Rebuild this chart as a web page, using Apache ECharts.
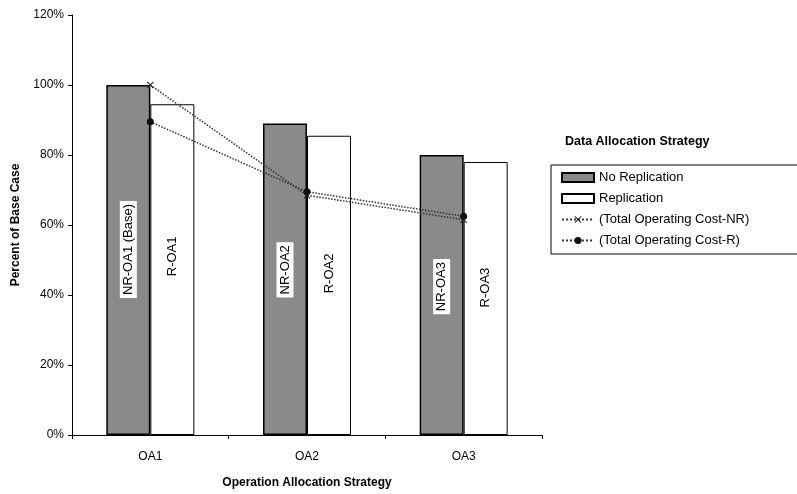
<!DOCTYPE html>
<html>
<head>
<meta charset="utf-8">
<script src="https://cdn.jsdelivr.net/npm/echarts@6/dist/echarts.min.js"></script>
<style>
html,body{margin:0;padding:0;background:#fff;}
#chart{width:797px;height:494px;}
</style>
</head>
<body>
<div id="chart"></div>
<script>
var categories = ['OA1', 'OA2', 'OA3'];
var seriesNames = ['No Replication', 'Replication', '(Total Operating Cost-NR)', '(Total Operating Cost-R)'];
var noReplication = [100, 89, 80];
var replication = [94.5, 85.5, 78];
var costNR = [100, 68.5, 61.5];
var costR = [89.5, 69.5, 62.5];
var nrLabels = ['NR-OA1 (Base)', 'NR-OA2', 'NR-OA3'];
var rLabels = ['R-OA1', 'R-OA2', 'R-OA3'];
var yTicks = { min: 0, max: 120, interval: 20 };

var FONT = '"Liberation Sans", Arial, sans-serif';
var chart = echarts.init(document.getElementById('chart'), null, { renderer: 'canvas' });

var starPath = 'path://M0,1 L1,0 L5,4 L9,0 L10,1 L6,5 L10,9 L9,10 L5,6 L1,10 L0,9 L4,5 Z';

var option = {
  backgroundColor: '#fff',
  textStyle: { fontFamily: FONT, color: '#000' },
  animation: false,
  title: {
    text: 'Data Allocation Strategy',
    left: 560,
    top: 130,
    textStyle: { fontFamily: FONT, fontSize: 12.5, fontWeight: 'bold', color: '#000' }
  },
  legend: {
    orient: 'vertical',
    left: 551,
    top: 165,
    padding: [6, 60, 7, 10],
    itemGap: 8,
    itemWidth: 32,
    itemHeight: 9,
    borderColor: '#000',
    borderWidth: 1,
    textStyle: { fontFamily: FONT, fontSize: 13, color: '#000' },
    data: [
      { name: seriesNames[0], icon: 'rect' },
      { name: seriesNames[1], icon: 'rect' },
      { name: seriesNames[2] },
      { name: seriesNames[3] }
    ]
  },
  grid: { left: 72, right: 255, top: 15, bottom: 59, containLabel: false },
  xAxis: {
    type: 'category',
    data: categories,
    name: 'Operation Allocation Strategy',
    nameLocation: 'middle',
    nameGap: 42,
    nameTextStyle: { fontFamily: FONT, fontSize: 12, fontWeight: 'bold', color: '#000' },
    axisLine: { lineStyle: { color: '#000', width: 1 } },
    axisTick: { show: true, length: 4, lineStyle: { color: '#000' } },
    axisLabel: { fontFamily: FONT, fontSize: 12, color: '#000', margin: 16 },
    splitLine: { show: false }
  },
  yAxis: {
    type: 'value',
    min: yTicks.min,
    max: yTicks.max,
    interval: yTicks.interval,
    name: 'Percent of Base Case',
    nameLocation: 'middle',
    nameGap: 50,
    nameRotate: 90,
    nameTextStyle: { fontFamily: FONT, fontSize: 12, fontWeight: 'bold', color: '#000' },
    axisLine: { show: true, lineStyle: { color: '#000', width: 1 } },
    axisTick: { show: true, length: 4, lineStyle: { color: '#000' } },
    axisLabel: { fontFamily: FONT, fontSize: 12, color: '#000', margin: 8, formatter: '{value}%' },
    splitLine: { show: false }
  },
  series: [
    {
      name: seriesNames[0],
      type: 'bar',
      data: noReplication,
      barWidth: 44,
      barGap: '0%',
      itemStyle: { color: '#8a8a8a', borderColor: '#000', borderWidth: 1.5 },
      label: {
        show: true,
        position: ['50%', '47%'],
        rotate: 90,
        align: 'center',
        verticalAlign: 'middle',
        fontFamily: FONT,
        fontSize: 13,
        color: '#000',
        backgroundColor: '#fff',
        padding: [3, 3, 1, 3],
        formatter: function (p) { return nrLabels[p.dataIndex]; }
      },
      z: 2
    },
    {
      name: seriesNames[1],
      type: 'bar',
      data: replication,
      barWidth: 44,
      barGap: '0%',
      itemStyle: { color: '#fff', borderColor: '#000', borderWidth: 1 },
      label: {
        show: true,
        position: ['50%', '46%'],
        rotate: 90,
        align: 'center',
        verticalAlign: 'middle',
        fontFamily: FONT,
        fontSize: 13,
        color: '#000',
        formatter: function (p) { return rLabels[p.dataIndex]; }
      },
      z: 2
    },
    {
      name: seriesNames[2],
      type: 'line',
      data: costNR,
      symbol: starPath,
      symbolSize: 7,
      itemStyle: { color: '#222' },
      lineStyle: { color: '#333', width: 1.5, type: 'dotted' },
      z: 5
    },
    {
      name: seriesNames[3],
      type: 'line',
      data: costR,
      symbol: 'circle',
      symbolSize: 7,
      itemStyle: { color: '#111' },
      lineStyle: { color: '#333', width: 1.5, type: 'dotted' },
      z: 5
    }
  ]
};
chart.setOption(option);
</script>
</body>
</html>
